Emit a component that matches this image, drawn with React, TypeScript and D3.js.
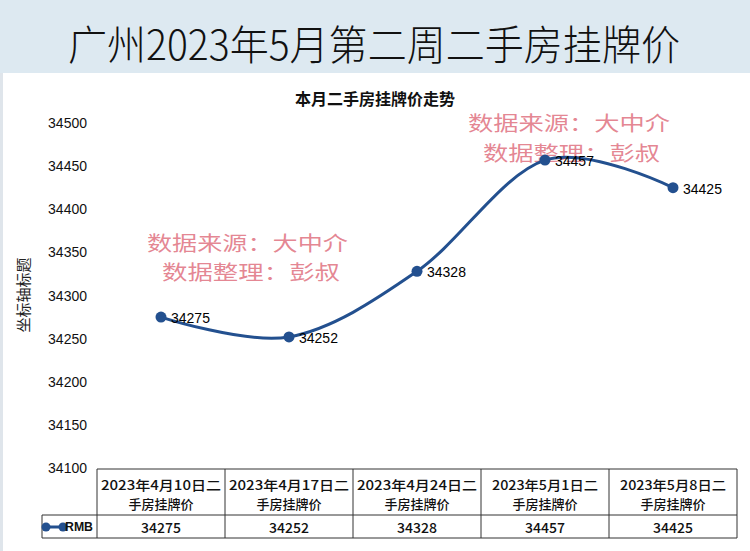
import React from "react";
import * as d3 from "d3";

const categories = [
  "2023年4月10日二手房挂牌价",
  "2023年4月17日二手房挂牌价",
  "2023年4月24日二手房挂牌价",
  "2023年5月1日二手房挂牌价",
  "2023年5月8日二手房挂牌价",
];
const values = [34275, 34252, 34328, 34457, 34425];
const yTicks = [34100, 34150, 34200, 34250, 34300, 34350, 34400, 34450, 34500];
const seriesName = "RMB";
const title = "广州2023年5月第二周二手房挂牌价";
const subtitle = "本月二手房挂牌价走势";
const yTitle = "坐标轴标题";
const watermark1 = "数据来源：大中介";
const watermark2 = "数据整理：彭叔";

const W = 750;
const H = 551;
const LINE = "#23508f";
const SANS = "'Liberation Sans', Arial, 'Noto Sans CJK SC', sans-serif";
const CJK = "'Noto Sans CJK SC', 'Liberation Sans', sans-serif";

function splitCat(c: string): [string, string] {
  const i = c.indexOf("日") + 2;
  return [c.slice(0, i), c.slice(i)];
}

export default function App() {
  const x = d3.scaleBand<string>().domain(categories).range([97, 737]).padding(0);
  const y = d3.scaleLinear().domain([34100, 34500]).range([468, 123]);
  const cx = (c: string) => (x(c) as number) + x.bandwidth() / 2;

  const line = d3
    .line<number>()
    .x((_, i) => cx(categories[i]))
    .y((d) => y(d))
    .curve(d3.curveCardinal.tension(0));

  const tableTop = 469;
  const rowMid = 515;
  const tableBottom = 538;
  const legendLeft = 42;

  const wm = (x0: number, y1: number, w1: number, x2: number, y2: number, w2: number) => (
    <g fill="#e0717f" fillOpacity={0.85} fontFamily={CJK} fontSize={20}>
      <text x={x0} y={y1} textLength={w1} lengthAdjust="spacingAndGlyphs" dominantBaseline="central">
        {watermark1}
      </text>
      <text x={x2} y={y2} textLength={w2} lengthAdjust="spacingAndGlyphs" dominantBaseline="central">
        {watermark2}
      </text>
    </g>
  );

  return (
    <svg
      width={W}
      height={H}
      style={{ position: "absolute", left: 0, top: 0, display: "block" }}
    >
      <rect x={0} y={0} width={W} height={H} fill="#ffffff" />
      <rect x={0} y={0} width={W} height={73} fill="#dde9f1" />
      <rect x={0} y={73} width={3} height={H - 73} fill="#dfe5eb" />
      <text
        x={68}
        y={42}
        textLength={612}
        lengthAdjust="spacingAndGlyphs"
        fontFamily={CJK}
        fontSize={41}
        fontWeight={300}
        fill="#111"
        dominantBaseline="central"
      >
        {title}
      </text>

      <text x={375} y={98} textAnchor="middle" dominantBaseline="central" fontFamily={CJK} fontSize={16} fontWeight={700} fill="#111">
        {subtitle}
      </text>

      {yTicks.map((t) => (
        <text key={t} x={87} y={y(t)} textAnchor="end" dominantBaseline="central" fontFamily={SANS} fontSize={14} fill="#111">
          {t}
        </text>
      ))}
      <text
        transform={`translate(22,295) rotate(-90)`}
        textAnchor="middle"
        dominantBaseline="central"
        fontFamily={CJK}
        fontSize={15}
        fill="#222"
      >
        {yTitle}
      </text>

      {wm(147, 242, 201, 162, 271, 178)}
      {wm(468, 122, 202, 483, 152, 177)}

      <path d={line(values) || ""} fill="none" stroke={LINE} strokeWidth={3} />
      {values.map((v, i) => (
        <g key={i}>
          <circle cx={cx(categories[i])} cy={y(v)} r={5.5} fill={LINE} />
          <text x={cx(categories[i]) + 10} y={y(v) + 1} dominantBaseline="central" fontFamily={SANS} fontSize={14} fill="#000">
            {v}
          </text>
        </g>
      ))}

      {/* data table */}
      <g stroke="#333" strokeWidth={1} fill="none">
        <line x1={97} x2={737} y1={tableTop} y2={tableTop} />
        <line x1={legendLeft} x2={737} y1={rowMid} y2={rowMid} />
        <line x1={legendLeft} x2={737} y1={tableBottom} y2={tableBottom} />
        <line x1={legendLeft} x2={legendLeft} y1={rowMid} y2={tableBottom} />
        {categories.map((c) => (
          <line key={c} x1={x(c) as number} x2={x(c) as number} y1={tableTop} y2={tableBottom} />
        ))}
        <line x1={737} x2={737} y1={tableTop} y2={tableBottom} />
      </g>
      {categories.map((c, i) => {
        const [l1, l2] = splitCat(c);
        return (
          <g key={c} fontFamily={CJK} fontSize={13} fontWeight={500} fill="#111" textAnchor="middle">
            <text x={cx(c)} y={484} dominantBaseline="central" textLength={l1.length > 10 ? 120 : 106} lengthAdjust="spacingAndGlyphs">{l1}</text>
            <text x={cx(c)} y={503} dominantBaseline="central">{l2}</text>
            <text x={cx(c)} y={527} dominantBaseline="central" fontSize={14}>{values[i]}</text>
          </g>
        );
      })}
      <line x1={46} x2={63} y1={527} y2={527} stroke={LINE} strokeWidth={3} />
      <circle cx={46} cy={527} r={4.5} fill={LINE} />
      <circle cx={63} cy={527} r={4.5} fill={LINE} />
      <text x={65} y={527} dominantBaseline="central" fontFamily={SANS} fontSize={12} fontWeight={700} fill="#111" textLength={28} lengthAdjust="spacingAndGlyphs">
        {seriesName}
      </text>
    </svg>
  );
}
